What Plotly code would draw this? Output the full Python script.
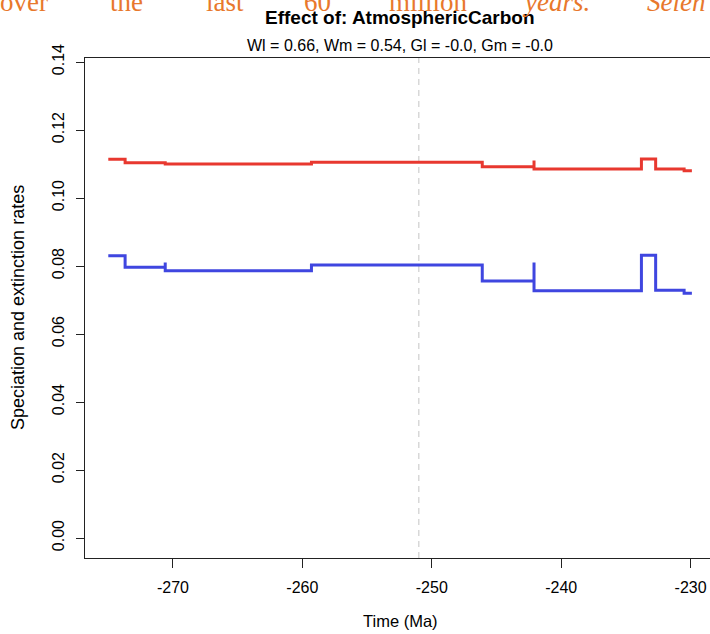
import plotly.graph_objects as go

# Data
time_red = [-275.0, -273.7, -270.6, -270.6, -259.3, -246.1, -242.1, -242.1, -233.8, -232.7, -230.5, -229.9]
rate_red = [0.1114, 0.1104, 0.1108, 0.1100, 0.1105, 0.1092, 0.1110, 0.1085, 0.1115, 0.1085, 0.1080, 0.1080]

time_blue = [-275.0, -273.7, -270.6, -270.6, -259.3, -246.1, -242.1, -242.1, -233.8, -232.7, -230.5, -229.9]
rate_blue = [0.0830, 0.0796, 0.0810, 0.0786, 0.0803, 0.0756, 0.0810, 0.0727, 0.0832, 0.0729, 0.0720, 0.0720]

boundary_time = -251.0
x_ticks = [-270, -260, -250, -240, -230]
y_ticks = [0.00, 0.02, 0.04, 0.06, 0.08, 0.10, 0.12, 0.14]
y_tick_labels = ["0.00", "0.02", "0.04", "0.06", "0.08", "0.10", "0.12", "0.14"]

title = "Effect of: AtmosphericCarbon"
subtitle = "Wl = 0.66, Wm = 0.54, Gl = -0.0, Gm = -0.0"
x_title = "Time (Ma)"
y_title = "Speciation and extinction rates"
top_words = ["over", "the", "last", "60", "million", "years.", "Selen"]
top_word_x = [24, 126, 225, 317, 428, 556, 645]
top_word_italic = [False, False, False, False, False, True, True]

W, H = 710, 634
L, R, T, B = 85, 0, 58, 76
pw, ph = W - L - R, H - T - B

fig = go.Figure()
fig.add_trace(go.Scatter(x=time_red, y=rate_red, mode="lines", line_shape="hv",
                         line=dict(color="#e8382f", width=3), showlegend=False))
fig.add_trace(go.Scatter(x=time_blue, y=rate_blue, mode="lines", line_shape="hv",
                         line=dict(color="#3f46e0", width=3), showlegend=False))

fig.add_shape(type="line", xref="x", yref="paper", x0=boundary_time, x1=boundary_time, y0=0, y1=1,
              line=dict(color="#c4c4c4", width=1, dash="6px,5px"), layer="below")

font_family = "Liberation Sans, Arial, sans-serif"

def px_x(x):
    return (x - L) / pw

def px_y(y):
    return (H - B - y) / ph

ann = []
ann.append(dict(text="<b>" + title + "</b>", x=px_x(400), y=px_y(18), xref="paper", yref="paper",
                showarrow=False, font=dict(size=19, family=font_family, color="black"),
                xanchor="center", yanchor="middle"))
ann.append(dict(text=subtitle, x=px_x(400), y=px_y(46), xref="paper", yref="paper",
                showarrow=False, font=dict(size=16, family=font_family, color="black"),
                xanchor="center", yanchor="middle"))
ann.append(dict(text=x_title, x=px_x(400), y=px_y(621), xref="paper", yref="paper",
                showarrow=False, font=dict(size=16.5, family=font_family, color="black"),
                xanchor="center", yanchor="middle"))
ann.append(dict(text=y_title, x=px_x(18), y=px_y(308), xref="paper", yref="paper",
                showarrow=False, textangle=-90, font=dict(size=18, family=font_family, color="black"),
                xanchor="center", yanchor="middle"))
for w, xc, it in zip(top_words, top_word_x, top_word_italic):
    txt = "<i>" + w + "</i>" if it else w
    ann.append(dict(text=txt, x=px_x(xc), y=px_y(2), xref="paper", yref="paper",
                    showarrow=False, font=dict(size=27, family="Liberation Serif, Times New Roman, serif",
                                               color="#e8782c"),
                    xanchor="left" if w == "Selen" else "center", yanchor="middle"))

fig.update_layout(
    width=W, height=H,
    margin=dict(l=L, r=R, t=T, b=B, pad=0),
    paper_bgcolor="white", plot_bgcolor="white",
    annotations=ann,
    xaxis=dict(range=[-276.8, -228.5], tickmode="array", tickvals=x_ticks,
               ticktext=[str(v) for v in x_ticks],
               ticks="outside", ticklen=9, tickcolor="#222", tickwidth=1,
               ticklabelstandoff=6,
               showline=True, linecolor="#222", linewidth=1, mirror=True,
               showgrid=False, zeroline=False,
               tickfont=dict(size=16, family=font_family, color="black")),
    yaxis=dict(range=[-0.00588, 0.14118], tickmode="array", tickvals=y_ticks,
               ticktext=y_tick_labels, tickangle=-90,
               ticks="outside", ticklen=8, tickcolor="#222", tickwidth=1,
               ticklabelstandoff=6,
               showline=True, linecolor="#222", linewidth=1, mirror=False,
               showgrid=False, zeroline=False,
               tickfont=dict(size=16, family=font_family, color="black")),
)

fig.write_html("out.html", config={"displayModeBar": False},
               post_script="document.body.style.margin='0px';document.body.style.overflow='hidden';")
